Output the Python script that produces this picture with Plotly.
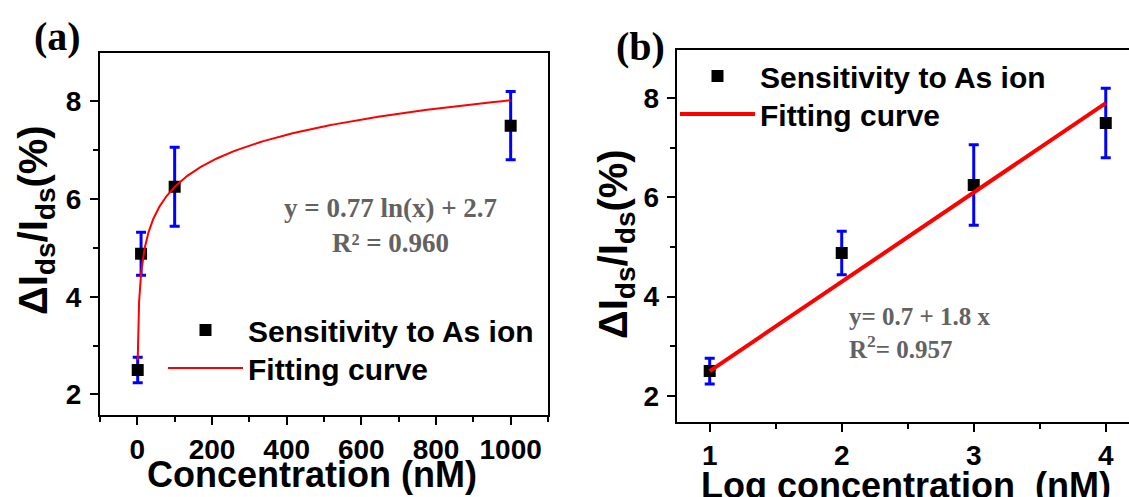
import numpy as np
import plotly.graph_objects as go

# Measured sensitivity (ΔIds/Ids, %) at each arsenic concentration
conc_nM = [1, 10, 100, 1000]
log_conc = [1, 2, 3, 4]
sensitivity = [2.5, 4.88, 6.25, 7.5]
sens_err = [0.26, 0.44, 0.81, 0.70]

# Fit coefficients as reported on the panels
ln_fit = {"a": 0.77, "b": 2.7}          # y = a ln(x) + b
lin_fit = {"a": 0.7, "b": 1.8}          # y = a + b x

W, H = 1129, 497
SANS = "Liberation Sans, Arial, sans-serif"
SERIF = "Liberation Serif, Times New Roman, serif"


def px(x0, x1):
    return [x0 / W, x1 / W]


def py(top, bottom):
    return [(H - bottom) / H, (H - top) / H]


def pt(x, y):
    return x / W, (H - y) / H


fig = go.Figure()

# ---- panel (a): linear concentration axis, logarithmic fit ----
fig.add_trace(go.Scatter(
    x=conc_nM, y=sensitivity, mode="markers", name="Sensitivity to As ion",
    marker=dict(symbol="square", size=12, color="black"),
    error_y=dict(type="data", array=sens_err, color="#0000ff", thickness=3, width=5),
    xaxis="x", yaxis="y", legend="legend",
))
xa = np.geomspace(conc_nM[0], conc_nM[-1], 300)
fig.add_trace(go.Scatter(
    x=xa, y=ln_fit["a"] * np.log(xa) + ln_fit["b"], mode="lines", name="Fitting curve",
    line=dict(color="#ff0000", width=2), xaxis="x", yaxis="y", legend="legend3",
))

# ---- panel (b): log concentration axis, linear fit ----
fig.add_trace(go.Scatter(
    x=log_conc, y=sensitivity, mode="markers", name="Sensitivity to As ion",
    marker=dict(symbol="square", size=12, color="black"),
    error_y=dict(type="data", array=sens_err, color="#0000ff", thickness=3, width=5),
    xaxis="x2", yaxis="y2", legend="legend2",
))
xb = np.array([log_conc[0], log_conc[-1]])
fig.add_trace(go.Scatter(
    x=xb, y=lin_fit["a"] + lin_fit["b"] * xb, mode="lines", name="Fitting curve",
    line=dict(color="#ff0000", width=4), xaxis="x2", yaxis="y2", legend="legend4",
))

tickfont = dict(family=SANS, size=28, color="black", weight="bold")
titlefont = dict(family=SANS, size=36, color="black", weight="bold")
ytitlefont = dict(family=SANS, size=40, color="black", weight="bold")
legendfont = dict(family=SANS, size=30, color="black", weight="bold")
ytitle = "ΔI<sub>ds</sub>/I<sub>ds</sub>(%)"
minor_tick = dict(ticks="outside", ticklen=5, tickwidth=2, tickcolor="black")

axis_common = dict(
    showline=True, linecolor="black", linewidth=2, showgrid=False, zeroline=False,
    ticks="outside", ticklen=8, tickwidth=2, tickcolor="black", tickfont=tickfont,
)


def legend_at(x, top):
    lx, ly = pt(x, top)
    return dict(x=lx, y=ly, xanchor="left", yanchor="top", bgcolor="rgba(0,0,0,0)",
                itemwidth=75, font=legendfont)


fig.update_layout(
    width=W, height=H, margin=dict(l=0, r=0, t=0, b=0),
    paper_bgcolor="white", plot_bgcolor="white", showlegend=True,
    xaxis=dict(axis_common, domain=px(100, 548), range=[-100, 1100], anchor="y",
               mirror=True, tickvals=[0, 200, 400, 600, 800, 1000],
               minor=dict(minor_tick, dtick=100, tick0=-100)),
    yaxis=dict(axis_common, domain=py(53.3, 415), range=[1.58, 8.98], anchor="x",
               mirror=True, tickvals=[2, 4, 6, 8], ticklabelstandoff=3,
               minor=dict(minor_tick, dtick=1, tick0=0)),
    xaxis2=dict(axis_common, domain=px(676.7, 1129), range=[0.75, 4.176], anchor="y2",
                mirror=True, tickvals=[1, 2, 3, 4],
                minor=dict(minor_tick, dtick=0.5, tick0=0.5)),
    yaxis2=dict(axis_common, domain=py(50, 421.7), range=[1.48, 8.97], anchor="x2",
                tickvals=[2, 4, 6, 8], ticklabelstandoff=2,
                minor=dict(minor_tick, dtick=1, tick0=0)),
    legend=legend_at(163, 304),
    legend3=legend_at(163, 342),
    legend2=legend_at(675, 50),
    legend4=legend_at(675, 88),
)


def label(text, x, y, font, xanchor="center", **kw):
    lx, ly = pt(x, y)
    fig.add_annotation(text=text, x=lx, y=ly, xref="paper", yref="paper",
                       showarrow=False, xanchor=xanchor, yanchor="middle", font=font, **kw)


# axis titles
label("Concentration (nM)", 312, 474, titlefont)
label("Log concentration\u00a0 (nM)", 906, 485, titlefont)
label(ytitle, 36, 220, ytitlefont, textangle=-90)
label(ytitle, 616, 244, ytitlefont, textangle=-90)

# panel labels
serif_big = dict(family=SERIF, size=40, color="black", weight="bold")
label("(a)", 57, 36, serif_big)
label("(b)", 640, 46, serif_big)

# fit equations
label("y = 0.77 ln(x) + 2.7<br>R² = 0.960", 390, 225.5,
      dict(family=SERIF, size=27, color="#626262", weight="bold"), align="center")
label("y= 0.7 + 1.8 x<br>R<sup>2</sup>= 0.957", 847, 332.5,
      dict(family=SERIF, size=25, color="#626262", weight="bold"), align="left", xanchor="left")

fig.write_html("out.html")
